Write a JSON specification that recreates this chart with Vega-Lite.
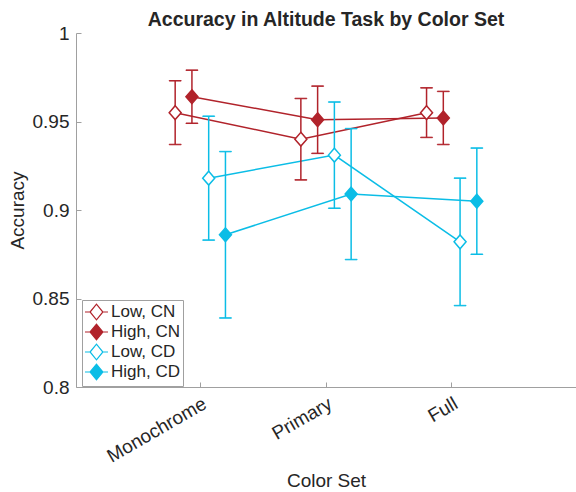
{
  "$schema": "https://vega.github.io/schema/vega-lite/v6.json",
  "autosize": "none",
  "padding": {"left": 76, "top": 33, "right": 0, "bottom": 105},
  "width": 500,
  "height": 354,
  "background": "white",
  "title": {"text": "Accuracy in Altitude Task by Color Set", "font": "Liberation Sans", "fontSize": 19.5, "fontWeight": "bold", "color": "#262626", "anchor": "middle", "offset": -6},
  "config": {
    "view": {"stroke": null},
    "font": "Liberation Sans",
    "axis": {"domainColor": "#a0a0a0", "tickColor": "#a0a0a0", "labelColor": "#262626", "titleColor": "#262626", "labelFont": "Liberation Sans", "titleFont": "Liberation Sans", "labelFontSize": 19, "titleFontSize": 19, "titleFontWeight": "normal", "grid": false}
  },
  "data": {"values": [
    {"set": "Monochrome", "series": "Low, CN", "mean": 0.955, "lo": 0.937, "hi": 0.973},
    {"set": "Monochrome", "series": "High, CN", "mean": 0.964, "lo": 0.949, "hi": 0.979},
    {"set": "Monochrome", "series": "Low, CD", "mean": 0.918, "lo": 0.883, "hi": 0.953},
    {"set": "Monochrome", "series": "High, CD", "mean": 0.886, "lo": 0.839, "hi": 0.933},
    {"set": "Primary", "series": "Low, CN", "mean": 0.940, "lo": 0.917, "hi": 0.963},
    {"set": "Primary", "series": "High, CN", "mean": 0.951, "lo": 0.932, "hi": 0.970},
    {"set": "Primary", "series": "Low, CD", "mean": 0.931, "lo": 0.901, "hi": 0.961},
    {"set": "Primary", "series": "High, CD", "mean": 0.909, "lo": 0.872, "hi": 0.946},
    {"set": "Full", "series": "Low, CN", "mean": 0.955, "lo": 0.941, "hi": 0.969},
    {"set": "Full", "series": "High, CN", "mean": 0.952, "lo": 0.937, "hi": 0.967},
    {"set": "Full", "series": "Low, CD", "mean": 0.882, "lo": 0.846, "hi": 0.918},
    {"set": "Full", "series": "High, CD", "mean": 0.905, "lo": 0.875, "hi": 0.935}
  ]},
  "encoding": {
    "x": {"field": "set", "type": "nominal", "sort": ["Monochrome", "Primary", "Full"],
      "scale": {"type": "band", "paddingInner": 0, "paddingOuter": 0.489},
      "axis": {"title": "Color Set", "labelAngle": -30, "bandPosition": 0.5, "tickSize": -5, "labelPadding": 12, "titlePadding": 6, "domainWidth": 1}},
    "xOffset": {"field": "series", "type": "nominal",
      "scale": {"type": "point", "domain": ["p1", "p2", "Low, CN", "High, CN", "Low, CD", "High, CD", "p3", "p4"], "padding": 0.25}}
  },
  "layer": [
    {
      "mark": {"type": "line", "strokeWidth": 1.5},
      "encoding": {
        "y": {"field": "mean", "type": "quantitative", "scale": {"domain": [0.8, 1]},
          "axis": {"title": "Accuracy", "values": [0.8, 0.85, 0.9, 0.95, 1], "format": "~g", "tickSize": -5, "labelPadding": 12, "titlePadding": 5}},
        "stroke": {"field": "series", "type": "nominal", "sort": ["Low, CN", "High, CN", "Low, CD", "High, CD"],
          "scale": {"domain": ["Low, CN", "High, CN", "Low, CD", "High, CD"], "range": ["#b1232b", "#b1232b", "#0bbde6", "#0bbde6"]},
          "legend": {"title": null, "orient": "none", "legendX": 6, "legendY": 267,
            "symbolType": "M-1.125,0L-0.49,0M-0.49,0L0.31,-0.98L1.11,0L0.31,0.98ZM1.11,0L1.75,0",
            "symbolSize": 256, "symbolStrokeWidth": 1.2, "labelFontSize": 17, "labelColor": "#262626", "labelFont": "Liberation Sans", "labelOffset": 8,
            "rowPadding": -3, "padding": 3, "strokeColor": "#a0a0a0", "fillColor": "white", "cornerRadius": 0}}
      }
    },
    {
      "mark": {"type": "rule", "strokeWidth": 1.5},
      "encoding": {
        "y": {"field": "lo", "type": "quantitative"},
        "y2": {"field": "hi"},
        "stroke": {"field": "series", "type": "nominal"}
      }
    },
    {
      "mark": {"type": "tick", "size": 12, "thickness": 0.5, "strokeWidth": 1, "fillOpacity": 0},
      "encoding": {
        "y": {"field": "lo", "type": "quantitative"},
        "stroke": {"field": "series", "type": "nominal"}
      }
    },
    {
      "mark": {"type": "tick", "size": 12, "thickness": 0.5, "strokeWidth": 1, "fillOpacity": 0},
      "encoding": {
        "y": {"field": "hi", "type": "quantitative"},
        "stroke": {"field": "series", "type": "nominal"}
      }
    },
    {
      "mark": {"type": "point", "shape": "M0,-1.15L1,0L0,1.15L-1,0Z", "size": 144, "strokeWidth": 1.5, "filled": false, "fillOpacity": 1, "opacity": 1},
      "encoding": {
        "y": {"field": "mean", "type": "quantitative"},
        "stroke": {"field": "series", "type": "nominal"},
        "fill": {"field": "series", "type": "nominal",
          "scale": {"domain": ["Low, CN", "High, CN", "Low, CD", "High, CD"], "range": ["white", "#b1232b", "white", "#0bbde6"]}}
      }
    }
  ]
}
